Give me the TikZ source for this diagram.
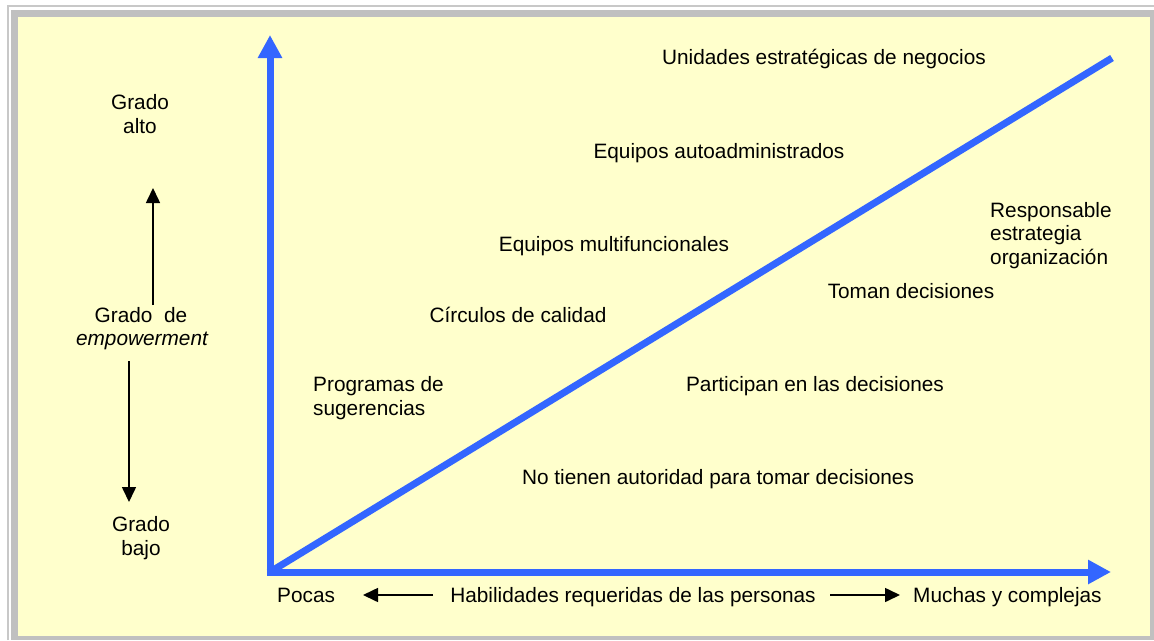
\documentclass[tikz,border=0pt]{standalone}
\usepackage{fontspec}
\setmainfont{Liberation Sans}
\usetikzlibrary{arrows.meta}
\definecolor{bgyellow}{HTML}{FFFFCC}
\definecolor{framegray}{HTML}{C0C0C0}
\definecolor{linegray}{HTML}{C8C8C8}
\definecolor{axisblue}{HTML}{3366FF}
\tikzset{
  lbl/.style={inner sep=0pt, font=\fontsize{20.8}{23.5}\selectfont, text=black},
  axis/.style={draw=axisblue, line width=7pt, -{Triangle[width=23pt,length=23pt]}},
  diag/.style={draw=axisblue, line width=7pt},
  thinarrow/.style={draw=black, line width=1.6pt, -{Triangle[width=14pt,length=15pt]}}
}
\begin{document}
\begin{tikzpicture}[x=1pt,y=-1pt]
\useasboundingbox (0,0) rectangle (1154,640);
% frame
\fill[white] (0,0) rectangle (1154,640);
\draw[linegray, line width=2pt] (8,640) -- (8,6) -- (1154,6);
\fill[framegray] (11,10) rectangle (1154,640);
\fill[bgyellow] (18,17) rectangle (1150,636);
% axes
\coordinate (O) at (270,572);
\coordinate (Ytop) at (270,35);
\coordinate (Xend) at (1111,572);
\coordinate (Dend) at (1112,58);
\draw[axis] (270,575.5) -- (Ytop);
\draw[axis] (266.5,572) -- (Xend);
\draw[diag] (O) -- (Dend);
% left labels
\node[lbl, anchor=base, align=center] (alto) at (140,133) {Grado\\alto};
\node[lbl, anchor=base] (gde) at (141,322) {Grado\ \ de};
\node[lbl, anchor=base] (emp) at (142,345) {\itshape empowerment};
\node[lbl, anchor=base, align=center] (bajo) at (141,555) {Grado\\bajo};
\coordinate (upS) at (153,305);
\coordinate (upE) at (153,188);
\coordinate (dnS) at (129,361);
\coordinate (dnE) at (129,502);
\draw[thinarrow] (upS) -- (upE);
\draw[thinarrow] (dnS) -- (dnE);
% bottom labels
\node[lbl, anchor=base west] (pocas) at (277,602) {Pocas};
\node[lbl, anchor=base] (hab) at (633,602) {Habilidades requeridas de las personas};
\node[lbl, anchor=base west] (muchas) at (913,602) {Muchas y complejas};
\coordinate (lS) at (433,595);
\coordinate (lE) at (363,595);
\coordinate (rS) at (830,595);
\coordinate (rE) at (900,595);
\draw[thinarrow] (lS) -- (lE);
\draw[thinarrow] (rS) -- (rE);
% above the line
\node[lbl, anchor=base] (uen) at (824,64) {Unidades estratégicas de negocios};
\node[lbl, anchor=base] (eauto) at (719,158) {Equipos autoadministrados};
\node[lbl, anchor=base] (emulti) at (614,251) {Equipos multifuncionales};
\node[lbl, anchor=base] (circ) at (518,322) {Círculos de calidad};
\node[lbl, anchor=base west, align=left] (prog) at (313,415) {Programas de\\sugerencias};
% below the line
\node[lbl, anchor=base west, align=left] (resp) at (990,264) {Responsable\\estrategia\\organización};
\node[lbl, anchor=base] (toman) at (911,298) {Toman decisiones};
\node[lbl, anchor=base] (part) at (815,391) {Participan en las decisiones};
\node[lbl, anchor=base] (noaut) at (718,484) {No tienen autoridad para tomar decisiones};
\end{tikzpicture}
\end{document}
